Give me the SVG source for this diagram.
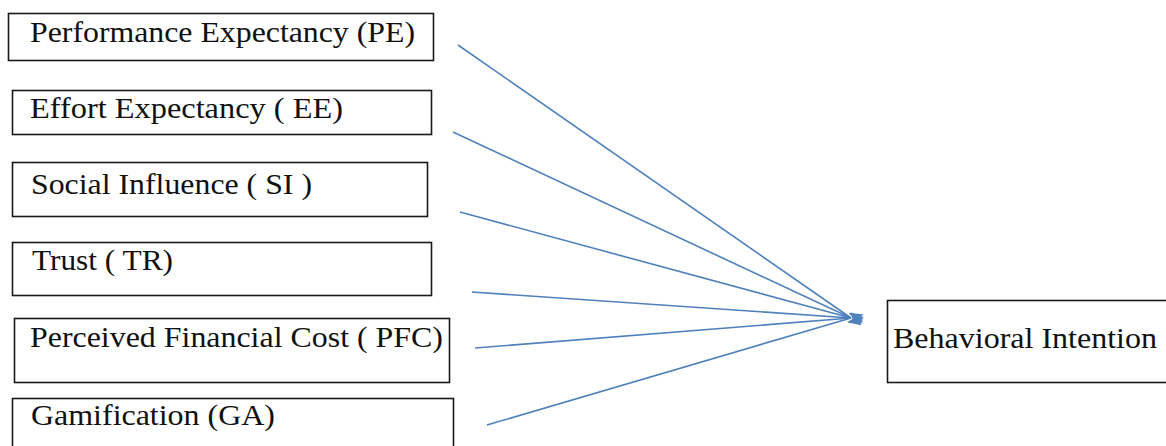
<svg xmlns="http://www.w3.org/2000/svg" width="1166" height="446" viewBox="0 0 1166 446">
  <style>
    .box { fill: #ffffff; stroke: #1a1a1a; stroke-width: 1.6; }
    .label { font-family: "Liberation Serif", "Times New Roman", serif; font-size: 30px; fill: #111111; }
    .link { stroke: #4f81bd; stroke-width: 1.6; fill: none; marker-end: url(#head); }
  </style>
  <defs>
    <marker id="head" viewBox="0 0 14 12" refX="1" refY="6" markerWidth="14" markerHeight="12" markerUnits="userSpaceOnUse" orient="auto">
      <path d="M0,0.5 L14,6 L0,11.5 L3,6 Z" fill="#4f81bd"/>
    </marker>
  </defs>
  <rect width="1166" height="446" fill="#ffffff"/>

  <g id="pe">
    <rect class="box" x="8.5" y="13.5" width="425" height="47"/>
    <text class="label" x="30" y="42" textLength="385" lengthAdjust="spacingAndGlyphs">Performance Expectancy (PE)</text>
  </g>
  <g id="ee">
    <rect class="box" x="12.5" y="90.5" width="419" height="44"/>
    <text class="label" x="30" y="118" textLength="313" lengthAdjust="spacingAndGlyphs">Effort Expectancy ( EE)</text>
  </g>
  <g id="si">
    <rect class="box" x="12.5" y="162.5" width="415" height="54"/>
    <text class="label" x="31" y="194" textLength="281" lengthAdjust="spacingAndGlyphs">Social Influence ( SI )</text>
  </g>
  <g id="tr">
    <rect class="box" x="12.5" y="242.5" width="419" height="53"/>
    <text class="label" x="32" y="270" textLength="141" lengthAdjust="spacingAndGlyphs">Trust ( TR)</text>
  </g>
  <g id="pfc">
    <rect class="box" x="14.5" y="318.5" width="435" height="64"/>
    <text class="label" x="30" y="347" textLength="413" lengthAdjust="spacingAndGlyphs">Perceived Financial Cost ( PFC)</text>
  </g>
  <g id="ga">
    <rect class="box" x="12.5" y="398.5" width="441" height="60"/>
    <text class="label" x="31" y="425" textLength="244" lengthAdjust="spacingAndGlyphs">Gamification (GA)</text>
  </g>
  <g id="bi">
    <rect class="box" x="887.5" y="300.5" width="290" height="82"/>
    <text class="label" x="893" y="348" textLength="264" lengthAdjust="spacingAndGlyphs">Behavioral Intention</text>
  </g>

  <g id="connectors">
    <line class="link" x1="458" y1="45" x2="851" y2="318"/>
    <line class="link" x1="453" y1="132" x2="851" y2="318"/>
    <line class="link" x1="460" y1="212" x2="851" y2="318"/>
    <line class="link" x1="472" y1="292" x2="851" y2="318"/>
    <line class="link" x1="475" y1="348" x2="851" y2="318"/>
    <line class="link" x1="487" y1="425" x2="851" y2="318"/>
  </g>
</svg>
